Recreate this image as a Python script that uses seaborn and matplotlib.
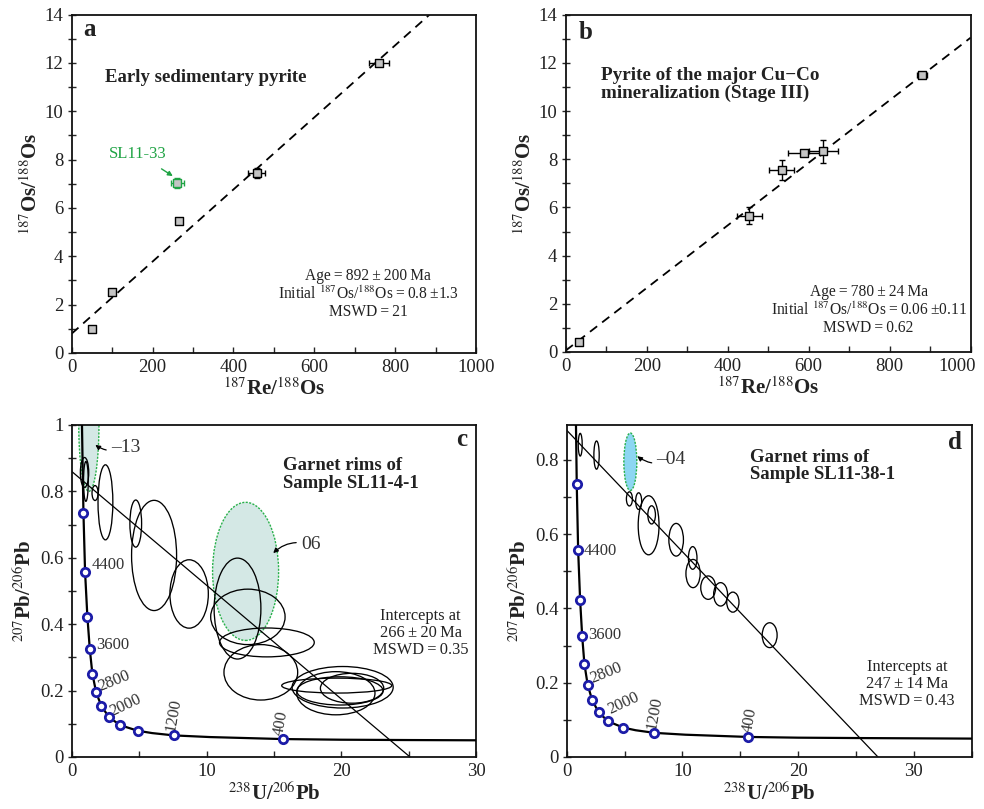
import numpy as np
import pandas as pd
import matplotlib
matplotlib.use("Agg")
import matplotlib.pyplot as plt
from matplotlib.patches import Ellipse
from matplotlib.ticker import MultipleLocator, FuncFormatter
from matplotlib.transforms import ScaledTranslation
import seaborn as sns

# ---------------- data ----------------
# panel a: Re-Os isochron, early sedimentary pyrite
a_re = [51, 100, 266, 457, 760]
a_os = [1.0, 2.53, 5.46, 7.46, 12.0]
a_re_err = [0, 0, 0, 21, 25]
a_os_err = [0, 0, 0, 0.2, 0.1]
a_out_re = [261]          # SL11-33 (green, excluded)
a_out_os = [7.04]
a_out_re_err = [16]
a_out_os_err = [0.22]
a_line_x = [0, 885]
a_line_y = [0.8, 14.0]

# panel b: pyrite of the major Cu-Co mineralization
b_re = [33, 453, 533, 588, 636, 879]
b_os = [0.43, 5.66, 7.57, 8.26, 8.33, 11.48]
b_re_err = [0, 31, 30, 39, 36, 12]
b_os_err = [0, 0.35, 0.41, 0.05, 0.48, 0.08]
b_line_x = [0, 1000]
b_line_y = [0.06, 13.05]

# Tera-Wasserburg concordia
conc_x = [0.76, 0.80, 0.87, 0.99, 1.16, 1.34, 1.53, 1.81, 2.20, 2.75, 3.10, 3.56,
          4.12, 4.90, 5.96, 7.57, 10.25, 15.64, 20.0, 25.0, 31.7, 35.0]
conc_y = [1.0, 0.90, 0.734, 0.557, 0.423, 0.325, 0.251, 0.195, 0.153, 0.121, 0.110, 0.097,
          0.089, 0.079, 0.072, 0.065, 0.060, 0.054, 0.052, 0.051, 0.050, 0.0495]
mark_x = [0.87, 0.99, 1.16, 1.34, 1.53, 1.81, 2.20, 2.75, 3.56, 4.90, 7.57, 15.64]
mark_y = [0.734, 0.557, 0.423, 0.325, 0.251, 0.195, 0.153, 0.121, 0.097, 0.079, 0.065, 0.054]
age_labels = ["4400", "3600", "2800", "2000", "1200", "400"]

# panel c: garnet rims SL11-4-1 error ellipses (x, y, width, height)
c_ell_x = [0.95, 1.05, 1.73, 2.50, 4.75, 6.11, 8.71, 12.3, 13.07, 14.48, 14.03,
           19.66, 20.1, 19.6, 20.8, 19.9]
c_ell_y = [0.857, 0.83, 0.795, 0.767, 0.703, 0.607, 0.491, 0.447, 0.422, 0.345, 0.255,
           0.215, 0.21, 0.192, 0.207, 0.199]
c_ell_w = [0.62, 0.35, 0.45, 1.10, 0.87, 3.34, 2.85, 3.47, 5.52, 7.03, 5.47,
           8.16, 7.5, 5.8, 4.7, 6.4]
c_ell_h = [0.09, 0.12, 0.045, 0.226, 0.142, 0.332, 0.206, 0.304, 0.167, 0.087, 0.167,
           0.045, 0.125, 0.13, 0.09, 0.085]
c_hl_x = [1.27, 12.9]      # highlighted spots 13 and 06
c_hl_y = [1.0, 0.559]
c_hl_w = [1.5, 4.9]
c_hl_h = [0.40, 0.416]
c_line_x = [0, 25.1]
c_line_y = [0.86, 0.0]

# panel d: garnet rims SL11-38-1
d_ell_x = [1.17, 2.58, 5.42, 6.22, 7.08, 7.34, 9.46, 10.89, 10.92, 12.23, 13.3, 14.36, 17.54]
d_ell_y = [0.841, 0.813, 0.695, 0.689, 0.624, 0.652, 0.585, 0.536, 0.494, 0.456, 0.438, 0.417, 0.328]
d_ell_w = [0.34, 0.46, 0.52, 0.52, 1.80, 0.66, 1.26, 0.74, 1.23, 1.29, 1.20, 1.06, 1.29]
d_ell_h = [0.061, 0.076, 0.038, 0.045, 0.159, 0.049, 0.088, 0.061, 0.076, 0.063, 0.063, 0.054, 0.067]
d_hl_x = [5.5]             # spot 04
d_hl_y = [0.795]
d_hl_w = [1.12]
d_hl_h = [0.155]
d_line_x = [0, 26.9]
d_line_y = [0.88, 0.0]

# ---------------- style ----------------
sns.set_style("ticks")
plt.rcParams["font.family"] = ["Liberation Serif", "DejaVu Serif"]
plt.rcParams["mathtext.fontset"] = "stix"
TXT = "#222222"
T = "\u2009"  # thin space

fig = plt.figure(figsize=(9.84, 8.09), dpi=100)
ax_a = fig.add_axes([0.0729, 0.5637, 0.4109, 0.4182])
ax_b = fig.add_axes([0.5749, 0.5649, 0.4116, 0.4169])
ax_c = fig.add_axes([0.0729, 0.0643, 0.4109, 0.4104])
ax_d = fig.add_axes([0.5759, 0.0643, 0.4116, 0.4108])

def fmt_num(v, pos):
    if abs(v) < 1e-9:
        return "0"
    return f"{v:.1f}" if abs(v - round(v)) > 1e-9 else f"{int(round(v))}"

def style_axes(ax, xmaj, xmin, ymaj, ymin):
    for sp in ax.spines.values():
        sp.set_linewidth(1.3)
        sp.set_color("#111111")
    ax.xaxis.set_major_locator(MultipleLocator(xmaj))
    ax.xaxis.set_minor_locator(MultipleLocator(xmin))
    ax.yaxis.set_major_locator(MultipleLocator(ymaj))
    ax.yaxis.set_minor_locator(MultipleLocator(ymin))
    ax.xaxis.set_major_formatter(FuncFormatter(fmt_num))
    ax.yaxis.set_major_formatter(FuncFormatter(fmt_num))
    ax.tick_params(axis="x", which="both", direction="in", length=4, width=1.0,
                   labelsize=13.5, labelcolor=TXT, pad=4, top=False)
    ax.tick_params(axis="y", which="both", direction="inout", length=6, width=1.0,
                   labelsize=13.5, labelcolor=TXT, pad=3, right=False)

def draw_isochron(ax, xs, ys, xe, ye, color="black", face="#c4c4c4"):
    ax.errorbar(xs, ys, xerr=xe, yerr=ye, fmt="none", ecolor=color, elinewidth=1.0,
                capsize=2.5, capthick=1.0, zorder=3)
    df = pd.DataFrame({"x": xs, "y": ys})
    sns.scatterplot(data=df, x="x", y="y", ax=ax, marker="s", s=34, color=face,
                    edgecolor=color, linewidth=1.0, zorder=4)

def panel_label(ax, s, x, y):
    ax.text(x, y, s, transform=ax.transAxes, fontsize=18, fontweight="bold",
            va="center", ha="center", color=TXT)

# ---- panel a ----
df_la = pd.DataFrame({"x": a_line_x, "y": a_line_y})
sns.lineplot(data=df_la, x="x", y="y", ax=ax_a, color="black", lw=1.3,
             linestyle=(0, (5, 3.5)), sort=False)
draw_isochron(ax_a, a_re, a_os, a_re_err, a_os_err)
draw_isochron(ax_a, a_out_re, a_out_os, a_out_re_err, a_out_os_err,
              color="#1fa344", face="#c4c4c4")
ax_a.set_xlim(0, 1000)
ax_a.set_ylim(0, 14)
style_axes(ax_a, 200, 100, 2, 1)
panel_label(ax_a, "a", 0.045, 0.955)
ax_a.text(0.082, 0.813, "Early sedimentary pyrite", transform=ax_a.transAxes, fontsize=13.5,
          fontweight="bold", va="center", ha="left", color=TXT)
ax_a.text(0.733, 0.174,
          f"Age{T}={T}892{T}±{T}200{T}Ma\nInitial $^{{187}}$Os/$^{{188}}$Os{T}={T}0.8{T}±1.3\nMSWD{T}={T}21",
          transform=ax_a.transAxes, fontsize=11.2, ha="center", va="center",
          linespacing=1.1, color=TXT)
ax_a.annotate("SL11-33", xy=(250, 7.32), xytext=(164, 8.24),
              fontsize=12, color="#1fa344", ha="center", va="center",
              arrowprops=dict(arrowstyle="-|>", color="#1fa344", lw=1.0,
                              shrinkA=5, shrinkB=0, mutation_scale=7))
ax_a.set_xlabel("$^{187}$Re/$^{188}$Os", fontsize=15, fontweight="bold", color=TXT, labelpad=2)
ax_a.set_ylabel("$^{187}$Os/$^{188}$Os", fontsize=15, fontweight="bold", color=TXT, labelpad=2)

# ---- panel b ----
df_lb = pd.DataFrame({"x": b_line_x, "y": b_line_y})
sns.lineplot(data=df_lb, x="x", y="y", ax=ax_b, color="black", lw=1.3,
             linestyle=(0, (5, 3.5)), sort=False)
draw_isochron(ax_b, b_re, b_os, b_re_err, b_os_err)
ax_b.set_xlim(0, 1000)
ax_b.set_ylim(0, 14)
style_axes(ax_b, 200, 100, 2, 1)
panel_label(ax_b, "b", 0.05, 0.946)
ax_b.text(0.087, 0.793, "Pyrite of the major Cu−Co\nmineralization (Stage III)",
          transform=ax_b.transAxes, fontsize=13.8, fontweight="bold", va="center",
          ha="left", linespacing=1.0, color=TXT)
ax_b.text(0.748, 0.125,
          f"Age{T}={T}780{T}±{T}24{T}Ma\nInitial $^{{187}}$Os/$^{{188}}$Os{T}={T}0.06{T}±0.11\nMSWD{T}={T}0.62",
          transform=ax_b.transAxes, fontsize=11.2, ha="center", va="center",
          linespacing=1.1, color=TXT)
ax_b.set_xlabel("$^{187}$Re/$^{188}$Os", fontsize=15, fontweight="bold", color=TXT, labelpad=2)
ax_b.set_ylabel("$^{187}$Os/$^{188}$Os", fontsize=15, fontweight="bold", color=TXT, labelpad=2)

# ---- concordia panels ----
def draw_concordia(ax, labels_pos):
    dfc = pd.DataFrame({"x": conc_x, "y": conc_y})
    sns.lineplot(data=dfc, x="x", y="y", ax=ax, color="black", lw=1.6, sort=False, zorder=3)
    dfm = pd.DataFrame({"x": mark_x, "y": mark_y})
    sns.scatterplot(data=dfm, x="x", y="y", ax=ax, marker="o", s=36, color="white",
                    edgecolor="#1c1ca8", linewidth=2.0, zorder=5)
    for lab, (x, y, rot) in zip(age_labels, labels_pos):
        ax.text(x, y, lab, fontsize=12, color="#333333", rotation=rot,
                ha="left", va="bottom", rotation_mode="anchor")

def draw_ellipses(ax, xs, ys, ws, hs, **kw):
    for x, y, w, h in zip(xs, ys, ws, hs):
        ax.add_patch(Ellipse((x, y), w, h, **kw))

# ---- panel c ----
draw_ellipses(ax_c, c_hl_x, c_hl_y, c_hl_w, c_hl_h, facecolor="#d4e8e5",
              edgecolor="#28b04a", lw=1.0, linestyle=(0, (1.5, 1)), zorder=1)
draw_ellipses(ax_c, c_ell_x, c_ell_y, c_ell_w, c_ell_h, facecolor="none",
              edgecolor="black", lw=0.95, zorder=2)
dflc = pd.DataFrame({"x": c_line_x, "y": c_line_y})
sns.lineplot(data=dflc, x="x", y="y", ax=ax_c, color="black", lw=0.9, sort=False, zorder=2)
draw_concordia(ax_c, [(1.5, 0.553, 0), (1.85, 0.312, 0), (2.2, 0.188, 22),
                      (3.1, 0.113, 25), (7.95, 0.072, 80), (15.95, 0.062, 80)])
ax_c.set_xlim(0, 30)
ax_c.set_ylim(0, 1.0)
style_axes(ax_c, 10, 5, 0.2, 0.1)
panel_label(ax_c, "c", 0.965, 0.955)
ax_c.text(0.523, 0.851, "Garnet rims of\nSample SL11-4-1", transform=ax_c.transAxes,
          fontsize=13.5, fontweight="bold", va="center", ha="left", linespacing=1.05, color=TXT)
ax_c.text(0.863, 0.373, f"Intercepts at\n266{T}±{T}20{T}Ma\nMSWD{T}={T}0.35",
          transform=ax_c.transAxes, fontsize=11.8, ha="center", va="center",
          linespacing=1.07, color=TXT)
ax_c.annotate("‒13", xy=(1.75, 0.94), xytext=(2.9, 0.933), fontsize=14, color="#333333",
              ha="left", va="center",
              arrowprops=dict(arrowstyle="-|>", color="black", lw=0.9, shrinkA=1, shrinkB=0,
                              mutation_scale=7, connectionstyle="arc3,rad=-0.3"))
ax_c.annotate("06", xy=(14.95, 0.614), xytext=(17.0, 0.639), fontsize=14, color="#333333",
              ha="left", va="center",
              arrowprops=dict(arrowstyle="-|>", color="black", lw=0.9, shrinkA=1, shrinkB=0,
                              mutation_scale=7, connectionstyle="arc3,rad=0.3"))
ax_c.set_xlabel("$^{238}$U/$^{206}$Pb", fontsize=15, fontweight="bold", color=TXT, labelpad=2)
ax_c.set_ylabel("$^{207}$Pb/$^{206}$Pb", fontsize=15, fontweight="bold", color=TXT, labelpad=3)

# ---- panel d ----
draw_ellipses(ax_d, d_hl_x, d_hl_y, d_hl_w, d_hl_h, facecolor="#8dd6f2",
              edgecolor="#28b04a", lw=1.0, linestyle=(0, (1.5, 1)), zorder=1)
draw_ellipses(ax_d, d_ell_x, d_ell_y, d_ell_w, d_ell_h, facecolor="none",
              edgecolor="black", lw=0.95, zorder=2)
dfld = pd.DataFrame({"x": d_line_x, "y": d_line_y})
sns.lineplot(data=dfld, x="x", y="y", ax=ax_d, color="black", lw=0.9, sort=False, zorder=2)
draw_concordia(ax_d, [(1.45, 0.532, 0), (1.85, 0.306, 0), (2.35, 0.19, 22),
                      (3.9, 0.105, 25), (8.0, 0.072, 80), (16.3, 0.062, 80)])
ax_d.set_xlim(0, 35)
ax_d.set_ylim(0, 0.895)
style_axes(ax_d, 10, 5, 0.2, 0.1)
panel_label(ax_d, "d", 0.959, 0.945)
ax_d.text(0.4526, 0.876, "Garnet rims of\nSample SL11-38-1", transform=ax_d.transAxes,
          fontsize=13.5, fontweight="bold", va="center", ha="left", linespacing=1.05, color=TXT)
ax_d.text(0.84, 0.22, f"Intercepts at\n247{T}±{T}14{T}Ma\nMSWD{T}={T}0.43",
          transform=ax_d.transAxes, fontsize=11.8, ha="center", va="center",
          linespacing=1.07, color=TXT)
ax_d.annotate("‒04", xy=(6.1, 0.81), xytext=(7.75, 0.80), fontsize=14, color="#333333",
              ha="left", va="center",
              arrowprops=dict(arrowstyle="-|>", color="black", lw=0.9, shrinkA=1, shrinkB=0,
                              mutation_scale=7, connectionstyle="arc3,rad=-0.3"))
ax_d.set_xlabel("$^{238}$U/$^{206}$Pb", fontsize=15, fontweight="bold", color=TXT, labelpad=2)
ax_d.set_ylabel("$^{207}$Pb/$^{206}$Pb", fontsize=15, fontweight="bold", color=TXT, labelpad=3)

# keep the last tick label of panel b inside the figure
fig.canvas.draw()
for lbl in ax_b.get_xticklabels():
    if lbl.get_text() == "1000":
        lbl.set_horizontalalignment("right")
        lbl.set_transform(lbl.get_transform() + ScaledTranslation(4 / 72, 0, fig.dpi_scale_trans))

fig.savefig("out.png", dpi=100)
